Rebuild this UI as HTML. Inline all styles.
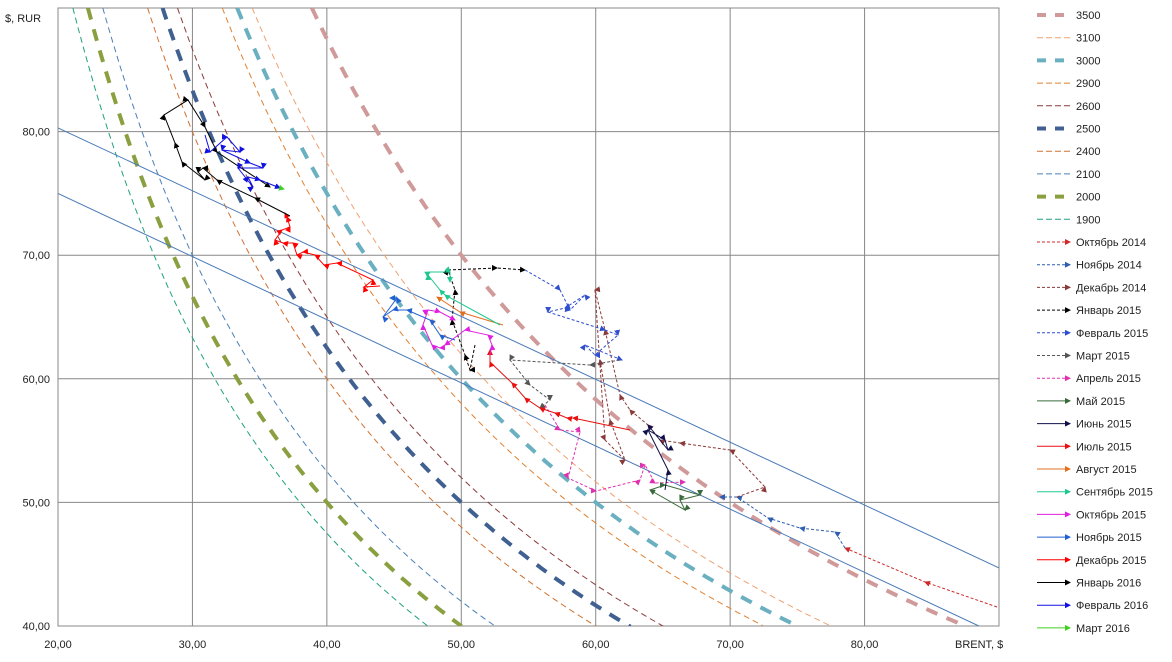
<!DOCTYPE html>
<html><head><meta charset="utf-8"><style>
body{margin:0;background:#fff;font-family:"Liberation Sans","Noto Sans CJK SC",sans-serif;}
svg text{font-family:"Liberation Sans","DejaVu Sans",sans-serif;font-size:11px;fill:#222}
</style></head><body>
<svg id="s" width="1172" height="657" xmlns="http://www.w3.org/2000/svg"></svg>
<script>
const s=document.getElementById('s');let h='';
const X=v=>58+(v-20)*941/70, Y=v=>626-(v-40)*618/50;
// grid
h+='<rect x="58" y="8" width="941" height="618" fill="#fff" stroke="#888"/>';
for(let v=30;v<=80;v+=10)h+=`<line x1="${X(v)}" y1="8" x2="${X(v)}" y2="626" stroke="#888"/>`;
for(let v=50;v<=80;v+=10)h+=`<line x1="58" y1="${Y(v)}" x2="999" y2="${Y(v)}" stroke="#888"/>`;
for(let v=20;v<=80;v+=10)h+=`<text x="${X(v)}" y="648" text-anchor="middle">${v},00</text>`;
for(let v=40;v<=80;v+=10)h+=`<text x="50" y="${Y(v)+4}" text-anchor="end">${v},00</text>`;
h+='<text x="5" y="22">$, RUR</text><text x="955" y="648">BRENT, $</text>';
h+='<defs><clipPath id="c"><rect x="58" y="8" width="941" height="618"/></clipPath>';
const cols=['#ce2a2a','#2e5fb0','#8b3a3a','#000','#2f4fcf','#555','#e030b0','#3a6a3a','#10104a','#e81010','#e07020','#20c890','#e020e0','#2060d0','#ff0000','#000','#1010e0','#40d020'];
cols.forEach((c,i)=>h+=`<marker id="m${i}" markerWidth="6" markerHeight="6" refX="5" refY="3" orient="auto"><path d="M0,0L6,3L0,6z" fill="${c}"/></marker>`);
h+='</defs><g clip-path="url(#c)">';
// curves
const curves=[[3500,'#d09a9a',4,'12 10'],[3100,'#f0a070',1,'6 4'],[3000,'#6ab0c0',4,'12 10'],[2900,'#e08030',1,'6 4'],[2600,'#8b3a3a',1,'6 4'],[2500,'#3f6090',4,'12 10'],[2400,'#d07030',1,'6 4'],[2100,'#4a80b8',1,'6 4'],[2000,'#8aa040',4,'12 10'],[1900,'#20a080',1,'6 4']];
curves.forEach(([k,c,w,d])=>{let p=[];for(let x=k/90;x<=k/40+0.1;x+=0.2)p.push(X(x).toFixed(1)+','+Y(k/x).toFixed(1));h+=`<polyline points="${p.join(' ')}" fill="none" stroke="${c}" stroke-width="${w}" stroke-dasharray="${d}"/>`;});
h+=`<line x1="58" y1="${Y(80.3)}" x2="999" y2="${Y(44.7)}" stroke="#4a7ab8"/>`;
h+=`<line x1="58" y1="${Y(75)}" x2="${X(88.5)}" y2="626" stroke="#4a7ab8"/>`;
const S=[
[[997,607],[925,582],[845,548]],
[[845,548],[835,532],[800,528],[768,518],[737,497],[720,497]],
[[737,497],[765,487],[730,450],[680,443],[660,440],[648,425],[630,410],[620,395],[605,330],[595,290],[605,440],[625,460],[610,420],[600,360]],
[[475,345],[470,370],[465,355],[452,320],[455,290],[448,270],[497,268],[525,270]],
[[525,270],[560,290],[570,310],[585,295],[565,308],[548,312],[605,330],[618,335],[595,355],[585,345],[622,360]],
[[620,360],[590,365],[510,360],[530,385],[550,400],[540,408]],
[[545,405],[560,430],[580,432],[568,478],[596,491],[640,480],[645,465],[655,483],[685,482]],
[[650,490],[665,485],[700,495],[680,500],[685,510],[650,490]],
[[665,490],[668,470],[648,430],[665,440],[668,450],[648,425]],
[[630,430],[573,418],[567,418],[555,413],[540,408],[525,398],[512,383],[490,362],[490,350]],
[[503,325],[460,312],[437,297]],
[[500,325],[445,295],[440,290],[428,275],[430,272],[450,272],[450,282]],
[[490,355],[492,345],[488,335],[465,330],[445,345],[440,348],[432,345],[423,325],[428,310],[440,312],[455,320]],
[[455,340],[440,335],[430,320],[407,310],[393,310],[383,317],[397,298],[390,298]],
[[380,286],[364,287],[373,280],[337,263],[324,265],[315,255],[303,252],[297,255],[293,243],[283,243],[275,240],[282,230],[290,227],[287,217],[285,213]],
[[290,216],[255,198],[217,180],[203,168],[198,172],[205,180],[182,162],[175,143],[164,115],[188,100],[205,127],[217,152],[270,187]],
[[205,135],[210,152],[227,137],[240,152],[222,150],[250,163],[263,168],[238,168],[253,187],[248,177],[260,180],[280,188]],
[[280,188],[284,189]]];
const dotted=[1,1,1,1,1,1,1,0,0,0,0,0,0,0,0,0,0,0];
S.forEach((p,i)=>h+=`<polyline points="${p.map(q=>q.join(',')).join(' ')}" fill="none" stroke="${cols[i]}" stroke-width="1" ${dotted[i]?'stroke-dasharray="3 2"':''} marker-mid="url(#m${i})" marker-end="url(#m${i})"/>`);
h+='</g>';
// legend
const L=[['3500','#d09a9a',4,'9 9'],['3100','#f0a070',1,'6 3'],['3000','#6ab0c0',4,'9 9'],['2900','#e08030',1,'6 3'],['2600','#8b3a3a',1,'6 3'],['2500','#3f6090',4,'9 9'],['2400','#d07030',1,'6 3'],['2100','#4a80b8',1,'6 3'],['2000','#8aa040',4,'9 9'],['1900','#20a080',1,'6 3']];
const n=['Октябрь 2014','Ноябрь 2014','Декабрь 2014','Январь 2015','Февраль 2015','Март 2015','Апрель 2015','Май 2015','Июнь 2015','Июль 2015','Август 2015','Сентябрь 2015','Октябрь 2015','Ноябрь 2015','Декабрь 2015','Январь 2016','Февраль 2016','Март 2016'];
n.forEach((t,i)=>L.push([t,cols[i],1,dotted[i]?'3 2':'none',i]));
L.forEach((e,i)=>{const y=15+i*22.7;h+=`<line x1="1037" y1="${y}" x2="1070" y2="${y}" stroke="${e[1]}" stroke-width="${e[2]}" stroke-dasharray="${e[3]}" ${e[4]!==undefined?`marker-end="url(#m${e[4]})"`:''}/><text x="1076" y="${y+4}" font-size="10">${e[0]}</text>`;});
s.innerHTML=h;
</script>
</body></html>
